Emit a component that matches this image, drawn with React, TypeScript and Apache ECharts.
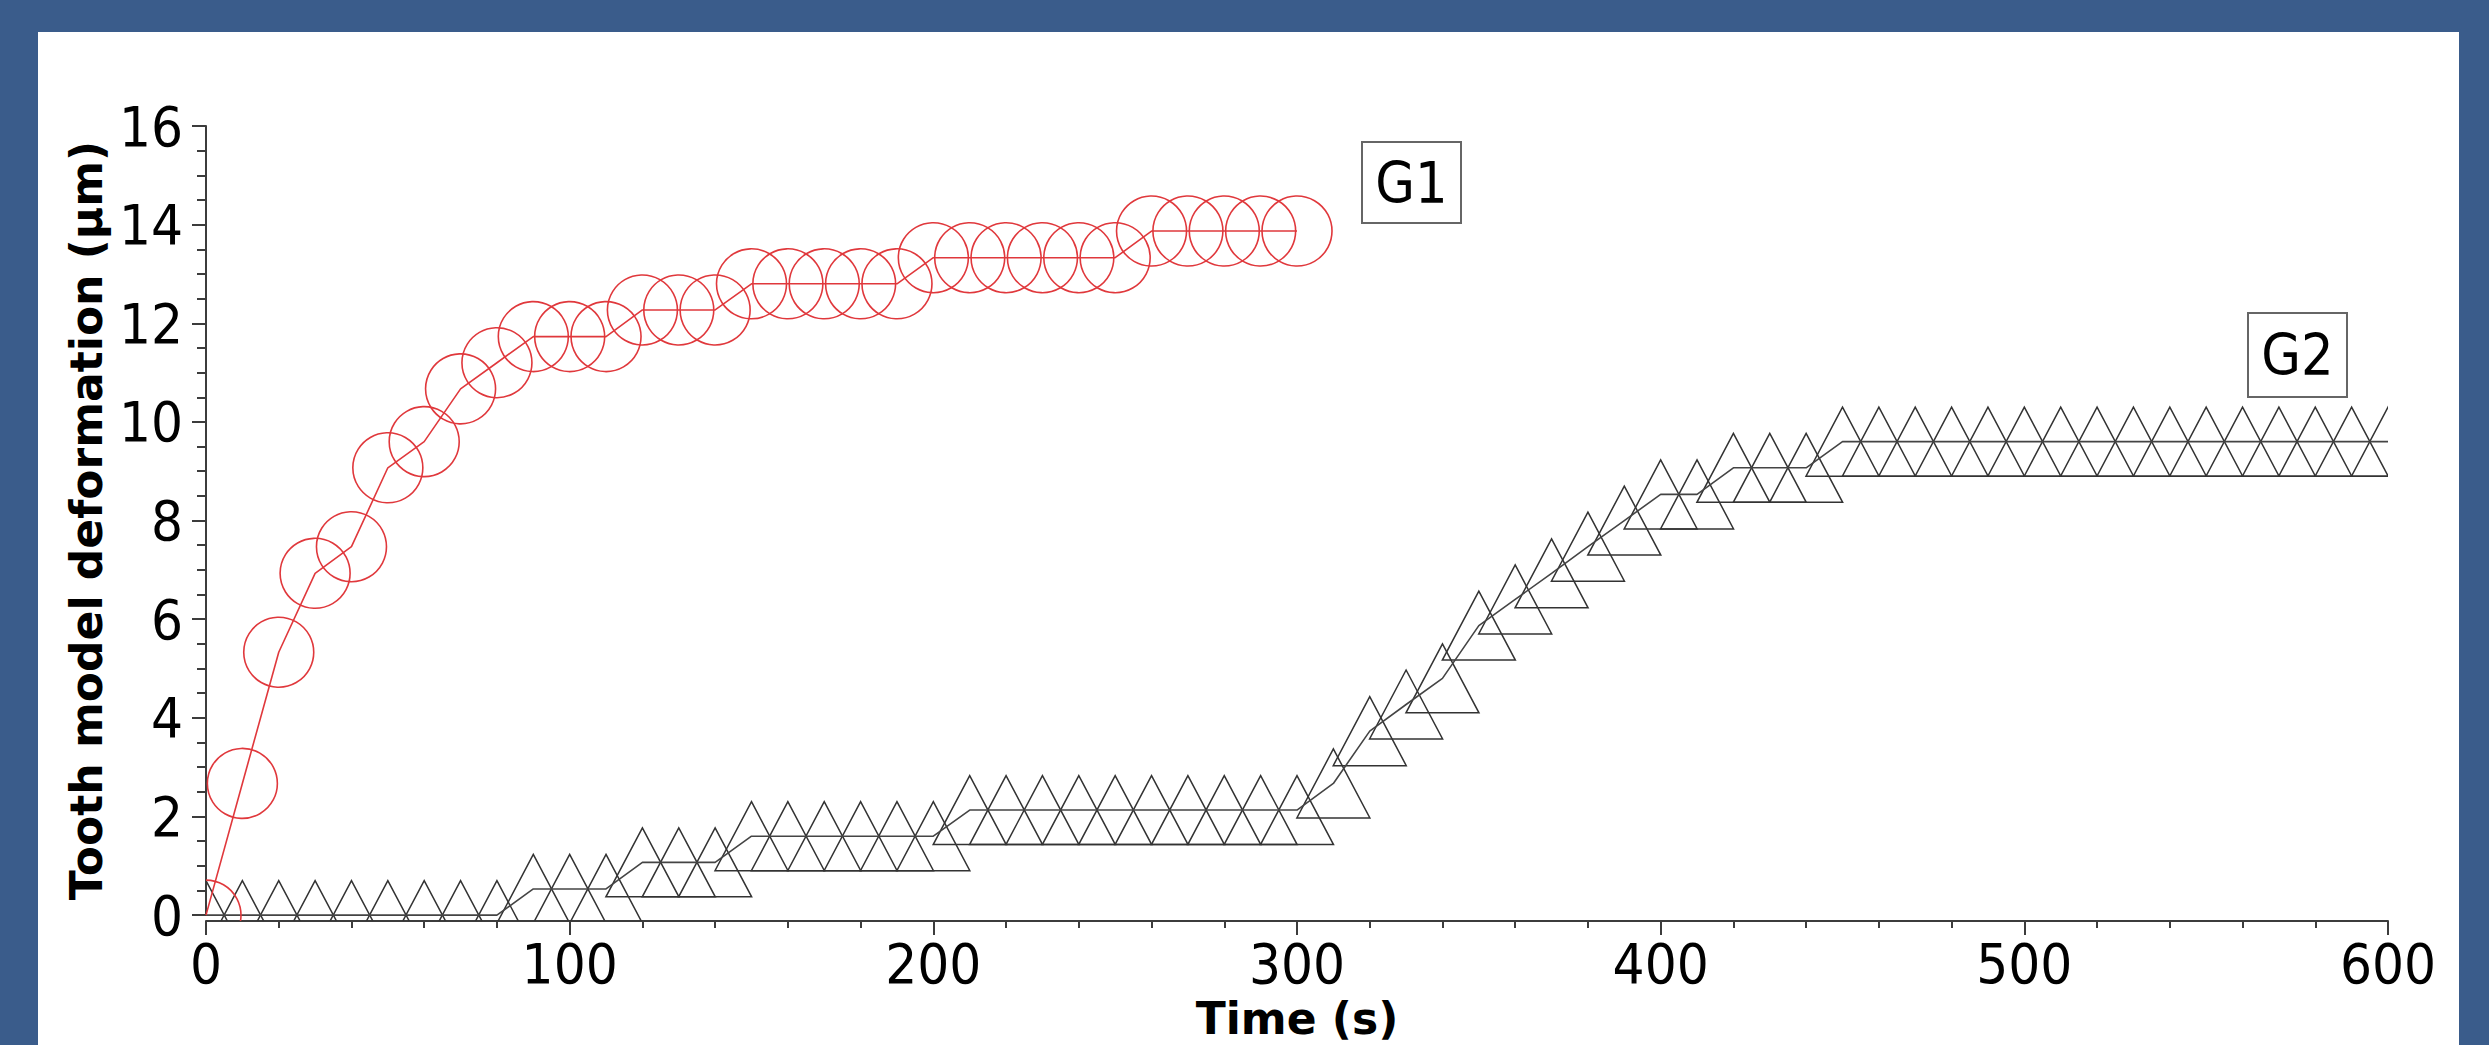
import React, { useEffect, useRef } from "react";
import * as echarts from "echarts";

// ---- data ----
const G1_TIME = [0, 10, 20, 30, 40, 50, 60, 70, 80, 90, 100, 110, 120, 130, 140, 150, 160, 170, 180, 190, 200, 210, 220, 230, 240, 250, 260, 270, 280, 290, 300];
const G1_DEF = [0, 2.67, 5.33, 6.93, 7.47, 9.07, 9.6, 10.67, 11.2, 11.73, 11.73, 11.73, 12.27, 12.27, 12.27, 12.8, 12.8, 12.8, 12.8, 12.8, 13.33, 13.33, 13.33, 13.33, 13.33, 13.33, 13.87, 13.87, 13.87, 13.87, 13.87];

const G2_TIME = [0, 10, 20, 30, 40, 50, 60, 70, 80, 90, 100, 110, 120, 130, 140, 150, 160, 170, 180, 190, 200, 210, 220, 230, 240, 250, 260, 270, 280, 290, 300, 310, 320, 330, 340, 350, 360, 370, 380, 390, 400, 410, 420, 430, 440, 450, 460, 470, 480, 490, 500, 510, 520, 530, 540, 550, 560, 570, 580, 590, 600];
const G2_DEF = [0, 0, 0, 0, 0, 0, 0, 0, 0, 0.53, 0.53, 0.53, 1.07, 1.07, 1.07, 1.6, 1.6, 1.6, 1.6, 1.6, 1.6, 2.13, 2.13, 2.13, 2.13, 2.13, 2.13, 2.13, 2.13, 2.13, 2.13, 2.67, 3.73, 4.27, 4.8, 5.87, 6.4, 6.93, 7.47, 8.0, 8.53, 8.53, 9.07, 9.07, 9.07, 9.6, 9.6, 9.6, 9.6, 9.6, 9.6, 9.6, 9.6, 9.6, 9.6, 9.6, 9.6, 9.6, 9.6, 9.6, 9.6];

const X_MIN = 0;
const X_MAX = 600;
const X_STEP = 100;
const Y_MIN = 0;
const Y_MAX = 16;
const Y_STEP = 2;

const SERIES_NAMES = ["G1", "G2"];
const X_TITLE = "Time (s)";
const Y_TITLE = "Tooth model deformation (µm)";

// ---- styles ----
const BLUE = "#3a5c8b";
const RED = "#e0383c";
const DARK = "#333333";
const AXIS_COLOR = "#3c3c3c";
const TICK_FONT = "'DejaVu Sans Condensed', 'DejaVu Sans', sans-serif";
const TITLE_FONT = "'DejaVu Sans', sans-serif";
const X_AXIS_OFFSET = 6;

function clipFor(params: any) {
  const cs = params.coordSys;
  return {
    type: "rect",
    shape: { x: cs.x, y: cs.y - 60, width: cs.width, height: cs.height + 60 + X_AXIS_OFFSET },
  };
}

function circleMarker(params: any, api: any) {
  const p = api.coord([api.value(0), api.value(1)]);
  return {
    type: "circle",
    shape: { cx: p[0], cy: p[1], r: 35 },
    style: { fill: "none", stroke: RED, lineWidth: 1.6 },
    clipPath: clipFor(params),
  };
}

function triangleMarker(params: any, api: any) {
  const p = api.coord([api.value(0), api.value(1)]);
  const hw = 36.5;
  const hh = 34.5;
  return {
    type: "polygon",
    shape: {
      points: [
        [p[0], p[1] - hh],
        [p[0] + hw, p[1] + hh],
        [p[0] - hw, p[1] + hh],
      ],
    },
    style: { fill: "none", stroke: DARK, lineWidth: 1.5 },
    clipPath: clipFor(params),
  };
}

export default function App() {
  const ref = useRef<HTMLDivElement>(null);

  useEffect(() => {
    if (!ref.current) return;
    const chart = echarts.init(ref.current, undefined, { renderer: "svg" });
    const g1 = G1_TIME.map((t, i) => [t, G1_DEF[i]]);
    const g2 = G2_TIME.map((t, i) => [t, G2_DEF[i]]);

    chart.setOption({
      animation: false,
      backgroundColor: "#ffffff",
      grid: { left: 168, top: 94, right: 71, bottom: 128, containLabel: false },
      xAxis: {
        type: "value",
        min: X_MIN,
        max: X_MAX,
        interval: X_STEP,
        offset: X_AXIS_OFFSET,
        name: X_TITLE,
        nameLocation: "middle",
        nameGap: 66,
        nameTextStyle: { fontFamily: TITLE_FONT, fontWeight: "bold", fontSize: 44, color: "#000" },
        axisLine: { onZero: false, lineStyle: { color: AXIS_COLOR, width: 2 } },
        axisTick: { length: 14, lineStyle: { color: AXIS_COLOR, width: 2 } },
        minorTick: { show: true, splitNumber: 5, length: 7, lineStyle: { color: AXIS_COLOR, width: 2 } },
        splitLine: { show: false },
        axisLabel: { fontFamily: TICK_FONT, fontSize: 56, color: "#000", margin: 14 },
      },
      yAxis: {
        type: "value",
        min: Y_MIN,
        max: Y_MAX,
        interval: Y_STEP,
        name: Y_TITLE,
        nameLocation: "middle",
        nameGap: 90,
        nameTextStyle: { fontFamily: TITLE_FONT, fontWeight: "bold", fontSize: 44, color: "#000" },
        axisLine: { show: true, lineStyle: { color: AXIS_COLOR, width: 2 } },
        axisTick: { show: true, length: 14, lineStyle: { color: AXIS_COLOR, width: 2 } },
        minorTick: { show: true, splitNumber: 4, length: 9, lineStyle: { color: AXIS_COLOR, width: 2 } },
        splitLine: { show: false },
        axisLabel: { fontFamily: TICK_FONT, fontSize: 56, color: "#000", margin: 23 },
      },
      series: [
        {
          name: SERIES_NAMES[1],
          type: "line",
          data: g2,
          showSymbol: false,
          symbol: "none",
          lineStyle: { color: "#444", width: 1.6 },
          clip: true,
          z: 2,
        },
        {
          name: SERIES_NAMES[1] + " markers",
          type: "custom",
          data: g2,
          encode: { x: 0, y: 1 },
          renderItem: triangleMarker,
          z: 2,
        },
        {
          name: SERIES_NAMES[0],
          type: "line",
          data: g1,
          showSymbol: false,
          symbol: "none",
          lineStyle: { color: RED, width: 1.6 },
          clip: true,
          z: 3,
        },
        {
          name: SERIES_NAMES[0] + " markers",
          type: "custom",
          data: g1,
          encode: { x: 0, y: 1 },
          renderItem: circleMarker,
          z: 3,
        },
      ],
      graphic: [
        {
          type: "group",
          x: 1324,
          y: 110,
          children: [
            { type: "rect", shape: { x: 0, y: 0, width: 99, height: 81 }, style: { fill: "#fff", stroke: "#666", lineWidth: 2 } },
            {
              type: "text",
              x: 49.5,
              y: 41,
              style: { text: SERIES_NAMES[0], align: "center", verticalAlign: "middle", fontFamily: TICK_FONT, fontSize: 57, fill: "#000" },
            },
          ],
        },
        {
          type: "group",
          x: 2210,
          y: 281,
          children: [
            { type: "rect", shape: { x: 0, y: 0, width: 99, height: 84 }, style: { fill: "#fff", stroke: "#666", lineWidth: 2 } },
            {
              type: "text",
              x: 49.5,
              y: 42,
              style: { text: SERIES_NAMES[1], align: "center", verticalAlign: "middle", fontFamily: TICK_FONT, fontSize: 57, fill: "#000" },
            },
          ],
        },
      ],
    });

    return () => chart.dispose();
  }, []);

  return (
    <div style={{ position: "absolute", left: 0, top: 0, width: 2489, height: 1045, background: BLUE, overflow: "hidden" }}>
      <div ref={ref} style={{ position: "absolute", left: 38, top: 32, width: 2421, height: 1013 }} />
    </div>
  );
}
